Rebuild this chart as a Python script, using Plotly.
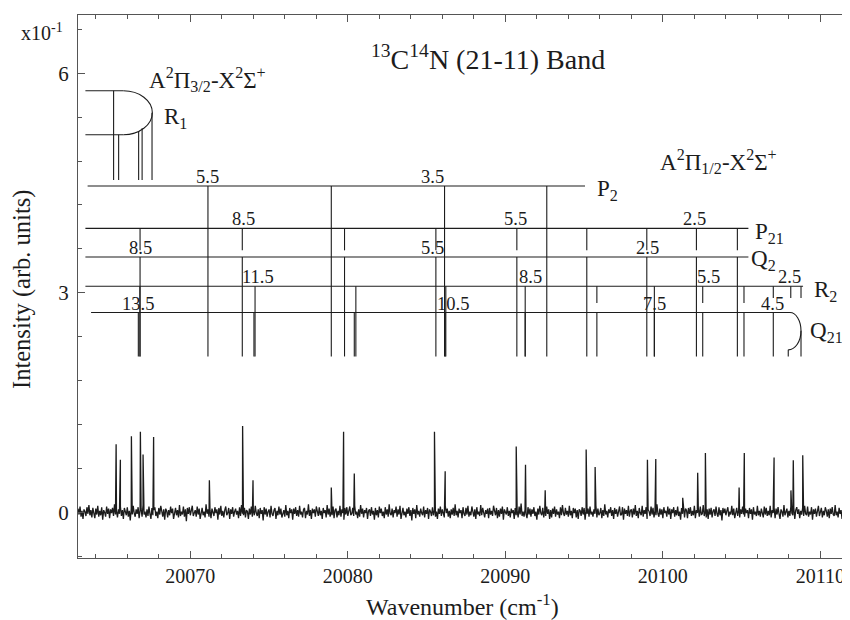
import numpy as np
import plotly.graph_objects as go

# ---------------- spectrum ----------------
peak_wn = [20065.29, 20065.56, 20066.26, 20066.83, 20067.00, 20067.67, 20071.21,
           20073.32, 20073.98, 20078.95, 20079.73, 20080.41, 20085.50, 20086.18,
           20090.69, 20091.28, 20092.53, 20095.13, 20095.70, 20099.02, 20099.55,
           20101.26, 20102.21, 20102.70, 20104.84, 20105.17, 20107.06, 20108.13,
           20108.28, 20108.88]
peak_int = [0.93, 0.72, 1.04, 1.10, 0.79, 1.03, 0.44,
            1.18, 0.44, 0.34, 1.10, 0.53, 1.10, 0.56,
            0.90, 0.65, 0.30, 0.86, 0.62, 0.72, 0.73,
            0.20, 0.54, 0.81, 0.34, 0.81, 0.75, 0.30,
            0.71, 0.78]
# baseline fluctuation, hundredths of the intensity unit, evenly spaced in wavenumber
noise_centi = [
    5, -3, 8, -6, 2, -9, 4, 1, -5, 7, -2, 10, -4, 3, -7, 6, -1, -8, 5, -3,
    9, -6, 2, -4, 7, -10, 3, 0, -6, 8, -2, 5, -8, 4, -1, 6, -5, 11, -3, 2,
    -7, 4, -2, 8, -5, 3, -9, 6, 1, -4, 7, -6, 2, -11, 5, -3, 9, -1, -6, 4,
    -2, 7, -8, 3, 5, -6, 10, -3, 1, -7, 4, -5, 8, -2, -9, 6, -4, 3, 7, -5,
    1, -8, 6, -3, 9, -2, -6, 4, -10, 5, 2, -7, 3, -4, 8, -1, 5, -9, 2, 6,
    -4, 3, -7, 10, -5, 1, -3, 8, -6, 4, -12, 6, -2, 7, -4, 2, 9, -5, -1, 3,
    -6, 8, -3, 5, -9, 2, 6, -4, 1, -7, 11, -2, 4, -6, 3, -8, 5, 0, -5, 7,
    -1, 4, -10, 6, -3, 9, -5, 2, -7, 3, 8, -4, -1, 6, -9, 4, -2, 7, -6, 1,
    5, -3, 2, -8, 7, -5, 10, -2, -4, 6, -7, 3, 1, -9, 5, -3, 8, -6, 2, -4,
    9, -1, -5, 4, -8, 6, -2, 3, -11, 7, -3, 5, -6, 1, 4, -7, 9, -2, -5, 3,
    6, -9, 2, -4, 8, -3, 5, -7, 1, 3, -6, 10, -4, 2, -8, 6, -1, 4, -10, 5,
    -2, 7, -5, 3, -6, 9, -3, 1, -7, 4, 6, -8, 2, -3, 11, -5, 3, -9, 5, -1,
    4, -6, 8, -2, -5, 7, -4, 2, -9, 6, -1, 3, -7, 10, -3, 5, -6, 1, -4, 8,
    -8, 3, 5, -7, 2, -4, 9, -6, 4, -1, -10, 6, -3, 7, -5, 2, 8, -4, -2, 6,
    -5, 9, -3, 1, -8, 4, -6, 10, -2, 5, -7, 3, -1, 6, -9, 2, 4, -5, 7, -3,
    2, -10, 6, -4, 3, -7, 8, -1, 5, -5, 1, -8, 7, -3, 4, -6, 11, -2, -4, 5,
    -7, 3, -1, 8, -6, 4, -3, 9, -9, 2, 6, -4, 1, -7, 5, -2, 7, -5, 3, -11,
    6, -2, 4, -8, 10, -3, 2, -6, 5, -1, -4, 8, -7, 3, -2, 6, -9, 4, 1, -5,
    7, -4, 3, -6, 1, -9, 5, -2, 8, -5, 4, -3, -7, 9, -1, 5, -6, 2, -8, 4,
    -3, 6, -5, 11, -4, 2, -7, 5, -1, 3, -8, 7, -2, -5, 6, -3, 9, -6, 1, -4,
    8, -2, -6, 4, -9, 7, -3, 1, -5, 10, -4, 6, -1, -7, 3, -2, 5, -8, 6, -3,
    2, -5, 9, -1, -4, 6, -8, 3, -6, 5, -2, 8, -10, 4, 1, -3, 7, -5, 2, -7,
    5, -1, 3, -9, 6, -4, 2, -7, 8, -3, 12, -5, 1, -6, 4, -2, -8, 7, -3, 5,
    -6, 4, -2, 7, -5, 1, -10, 5, -3, 9, -1, -4, 6, -7, 3, -5, 8, -2, 4, -9,
    3, -7, 5, -2, 8, -6, 4, -3, 1, -8, 7, -4, 10, -1, -5, 6, -3, 2, -6, 9,
    -4, 2, -8, 6, -1, 5, -7, 3, -9, 4, 2, -5, 7, -3, 6, -10, 3, -2, 5, -6,
    8, -3, 1, -6, 4, -2, 9, -7, 5, -4, -1, 6, -8, 3, -5, 11, -3, 2, -7, 4,
    -1, 7, -5, 3, -9, 6, -2, 4, -6, 1, 8, -4, -3, 7, -10, 5, -2, 3, -5, 9,
    -6, 2, 4, -7, 5, -3, 10, -5, 2, -8, 6, -1, -4, 9, -6, 3, -2, 7, -9, 4,
    1, -5, 8, -3, 6, -7, 2, -4, 11, -2, -6, 5, -3, 4, -8, 7, -1, 2, -6, 8,
    -3, 5, -9, 4, -1, 7, -6, 3, -4, 8, -5, 1, -10, 6, -2, 4, -7, 5, 3, -8,
    6, -2, 7, -5, 2, -4, 9, -8, 3, -1, 5, -6, 8, -3, -2, 10, -5, 1, -7, 4,
    -9, 5, -3, 6, -7, 2, 4, -5, 8, -2, -6, 7, -4, 3, -11, 6, -1, 5, -4, 2,
    7, -6, 1, -3, 9, -4, 5, -8, 2, 6, -5, 3, -7, 4, -2, 8, -3, -6, 5, -1,
    3, -8, 6, -2, 4, -10, 7, -3, 1, -5, 9, -4, 2, -6, 5, -1, -7, 8, -3, 6,
    -5, 2, -4, 9, -7, 3, -1, 6, -8, 5, -3, 7, -2, -9, 4, 1, -6, 10, -4, 3,
    5, -7, 2, -5, 8, -1, -4, 6, -9, 3, 7, -2, 4, -8, 2, -3, 6, -5, 9, -2,
    -4, 8, -6, 1, -3, 7, -10, 4, -2, 5, -6, 3, 9, -5, -1, 6, -7, 2, -4, 7,
    2, -6, 4, -8, 5, -2, 7, -3, -5, 10, -4, 1, -7, 6, -2, 3, -9, 5, -1, 4,
    -3, 6, -5, 2, -4]
noise_start, noise_stop = 20062.875, 20111.875

# ---------------- rotational assignment sticks ----------------
stick_bottom = 2.13

r1_top, r1_mid, r1_low = 5.76, 5.46, 5.16
r1_start, r1_arc_start, r1_apex = 20063.34, 20065.75, 20067.59
r1_x = [20065.13, 20065.45, 20066.72, 20066.94, 20067.57]
r1_from = [5.76, 5.16, 5.21, 5.25, 5.46]
r1_to = 4.54

p2_level = 4.46
p2_span = [20063.48, 20095.06]
p2_x = [20071.12, 20078.95, 20086.14, 20092.63]
p2_lab = ["5.5", "3.5"]
p2_lab_x = [20071.11, 20085.36]

p21_level = 3.88
p21_to = 3.58
p21_span = [20063.34, 20105.43]
p21_x = [20066.81, 20073.30, 20079.79, 20085.59, 20090.73, 20095.17,
         20098.98, 20102.13, 20104.73]
p21_lab = ["8.5", "5.5", "2.5"]
p21_lab_x = [20073.36, 20090.62, 20101.98]

q2_level = 3.49
q2_span = [20063.34, 20105.43]
q2_x = [20066.81, 20073.30, 20079.79, 20085.59, 20090.73, 20095.17,
        20098.98, 20102.13, 20104.73]
q2_lab = ["8.5", "5.5", "2.5"]
q2_lab_x = [20066.83, 20085.36, 20099.00]

r2_level = 3.09
r2_span = [20063.34, 20108.90]
r2_x = [20066.80, 20074.11, 20080.51, 20086.22, 20091.26, 20095.81,
        20099.46, 20102.53, 20105.15, 20107.01, 20108.12, 20108.77]
r2_to = [2.13, 2.13, 2.13, 2.13, 2.13, 2.86, 2.13, 2.86, 2.86, 2.93, 2.93, 2.93]
r2_lab = ["11.5", "8.5", "5.5", "2.5"]
r2_lab_x = [20074.31, 20091.57, 20102.87, 20108.01]

q21_level, q21_mid, q21_low = 2.73, 2.48, 2.22
q21_start, q21_arc_top, q21_apex, q21_arc_low = 20063.70, 20108.07, 20108.77, 20107.96
q21_x = [20066.70, 20074.04, 20080.41, 20086.18, 20091.26, 20095.81,
         20099.46, 20102.53, 20105.15, 20107.01, 20107.96, 20108.77]
q21_from = [2.73, 2.73, 2.73, 2.73, 2.73, 2.73, 2.73, 2.73, 2.73, 2.73, 2.22, 2.48]
q21_lab = ["13.5", "10.5", "7.5", "4.5"]
q21_lab_x = [20066.70, 20086.69, 20099.44, 20106.93]

x_range = [20062.87, 20111.88]
y_range = [-0.624, 6.796]

FONT = "Liberation Serif, Times New Roman, serif"
INK = "#1c1c1c"
AXC = "#555555"

# ---------------- build spectrum trace ----------------
grid = np.linspace(noise_start, noise_stop, len(noise_centi))
sx = np.concatenate([grid, np.array(peak_wn)])
sy = np.concatenate([np.array(noise_centi) / 100.0, np.array(peak_int)])
order = np.argsort(sx, kind="stable")
sx, sy = sx[order], sy[order]

fig = go.Figure()
fig.add_trace(go.Scatter(x=sx, y=sy, mode="lines",
                         line=dict(color=INK, width=1.3), hoverinfo="skip",
                         showlegend=False))

# ---------------- build stick segments ----------------
seg_x, seg_y = [], []


def seg(x0, y0, x1, y1):
    seg_x.extend([x0, x1, None])
    seg_y.extend([y0, y1, None])


# R1
seg(r1_start, r1_top, r1_arc_start, r1_top)
seg(r1_start, r1_low, r1_arc_start, r1_low)
for x, y0 in zip(r1_x, r1_from):
    seg(x, y0, x, r1_to)
# P2
seg(p2_span[0], p2_level, p2_span[1], p2_level)
for x in p2_x:
    seg(x, p2_level, x, stick_bottom)
# P21
seg(p21_span[0], p21_level, p21_span[1], p21_level)
for x in p21_x:
    seg(x, p21_level, x, p21_to)
# Q2
seg(q2_span[0], q2_level, q2_span[1], q2_level)
for x in q2_x:
    seg(x, q2_level, x, stick_bottom)
# R2
seg(r2_span[0], r2_level, r2_span[1], r2_level)
for x, y1 in zip(r2_x, r2_to):
    seg(x, r2_level, x, y1)
# Q21
seg(q21_start, q21_level, q21_arc_top, q21_level)
for x, y0 in zip(q21_x, q21_from):
    seg(x, y0, x, stick_bottom)

fig.add_trace(go.Scatter(x=seg_x, y=seg_y, mode="lines",
                         line=dict(color=INK, width=1.1), hoverinfo="skip",
                         showlegend=False))

# band-head turn-back curves
K = 0.5523


def d_path(xt, xb, xa, yt, ym, yb):
    return (f"M {xt},{yt} C {xt + K * (xa - xt)},{yt} {xa},{ym + K * (yt - ym)} {xa},{ym} "
            f"C {xa},{ym - K * (ym - yb)} {xb + K * (xa - xb)},{yb} {xb},{yb}")


shapes = [
    dict(type="path", xref="x", yref="y",
         path=d_path(r1_arc_start, r1_arc_start, r1_apex, r1_top, r1_mid, r1_low),
         line=dict(color=INK, width=1.1)),
    dict(type="path", xref="x", yref="y",
         path=d_path(q21_arc_top, q21_arc_low, q21_apex, q21_level, q21_mid, q21_low),
         line=dict(color=INK, width=1.1)),
]

ann = []
NUM = dict(family=FONT, size=18.5, color=INK)
for labs, xs, lvl in [(p2_lab, p2_lab_x, p2_level), (p21_lab, p21_lab_x, p21_level),
                      (q2_lab, q2_lab_x, q2_level), (r2_lab, r2_lab_x, r2_level),
                      (q21_lab, q21_lab_x, q21_level)]:
    for t, x in zip(labs, xs):
        ann.append(dict(x=x, y=lvl, xref="x", yref="y", text=t, showarrow=False,
                        xanchor="center", yanchor="bottom", yshift=-3, font=NUM))

BR = dict(family=FONT, size=23, color=INK)
branch = [("R<sub>1</sub>", 20068.22, 5.39),
          ("P<sub>2</sub>", 20095.70, 4.40),
          ("P<sub>21</sub>", 20105.70, 3.82),
          ("Q<sub>2</sub>", 20105.49, 3.45),
          ("R<sub>2</sub>", 20109.45, 3.02),
          ("Q<sub>21</sub>", 20109.23, 2.47)]
for t, x, y in branch:
    ann.append(dict(x=x, y=y, xref="x", yref="y", text=t, showarrow=False,
                    xanchor="left", yanchor="middle", font=BR))

ann.append(dict(x=20071.11, y=5.92, xref="x", yref="y",
                text="A<sup>2</sup>Π<sub>3/2</sub>-X<sup>2</sup>Σ<sup>+</sup>",
                showarrow=False, font=dict(family=FONT, size=23, color=INK)))
ann.append(dict(x=20103.50, y=4.80, xref="x", yref="y",
                text="A<sup>2</sup>Π<sub>1/2</sub>-X<sup>2</sup>Σ<sup>+</sup>",
                showarrow=False, font=dict(family=FONT, size=23, color=INK)))
ann.append(dict(x=20088.91, y=6.22, xref="x", yref="y",
                text="<sup>13</sup>C<sup>14</sup>N (21-11) Band",
                showarrow=False, font=dict(family=FONT, size=28, color=INK)))
ann.append(dict(x=0, y=6.57, xref="paper", yref="y", text="x10<sup>-1</sup>",
                showarrow=False, xanchor="right", xshift=-13,
                font=dict(family=FONT, size=20, color=INK)))
# axis titles
ann.append(dict(x=0.4987, y=-0.0866, xref="paper", yref="paper",
                text="Wavenumber (cm<sup>-1</sup>)", showarrow=False,
                xanchor="center", yanchor="middle",
                font=dict(family=FONT, size=24, color=INK)))
ann.append(dict(x=0, y=0.4936, xref="paper", yref="paper", xshift=-56,
                text="Intensity (arb. units)", showarrow=False, textangle=-90,
                xanchor="center", yanchor="middle",
                font=dict(family=FONT, size=24.5, color=INK)))

# page body adds an 8 px margin, so the figure is 8 px smaller than the window
fig.update_layout(
    width=842, height=612,
    margin=dict(l=70, r=0, t=7, b=62, autoexpand=False),
    paper_bgcolor="white", plot_bgcolor="white",
    font=dict(family=FONT, color=INK),
    shapes=shapes, annotations=ann,
    showlegend=False,
)
fig.update_xaxes(
    range=x_range, showgrid=False, zeroline=False, automargin=False,
    showline=True, linecolor=AXC, linewidth=1.2, mirror="ticks",
    ticks="inside", ticklen=7, tickcolor=AXC, tickwidth=1.2,
    tick0=20070, dtick=10, tickformat="d",
    minor=dict(ticks="inside", ticklen=4, dtick=2, tick0=20070, tickcolor=AXC),
    tickfont=dict(family=FONT, size=20, color=INK),
)
fig.update_yaxes(
    range=y_range, showgrid=False, zeroline=False, automargin=False,
    showline=True, linecolor=AXC, linewidth=1.2, mirror=False,
    ticks="inside", ticklen=7, tickcolor=AXC, tickwidth=1.2,
    tick0=0, dtick=3,
    minor=dict(ticks="inside", ticklen=4, dtick=0.6, tick0=0, tickcolor=AXC),
    tickfont=dict(family=FONT, size=21, color=INK),
    ticklabelstandoff=4,
)

fig.write_html("out.html")
